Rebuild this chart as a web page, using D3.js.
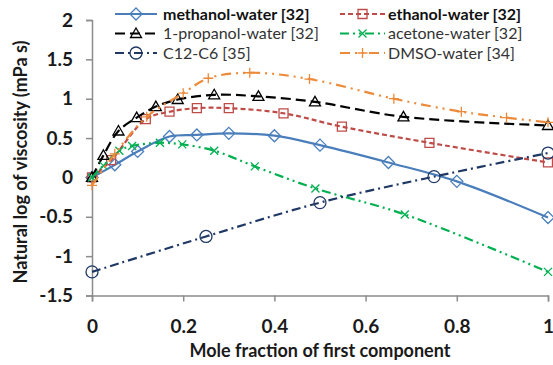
<!DOCTYPE html>
<html>
<head>
<meta charset="utf-8">
<script src="https://cdn.jsdelivr.net/npm/d3@7"></script>
<style>
  body { margin: 0; background: #fff; }
  svg { display: block; font-family: Lato, "Open Sans", sans-serif; }
</style>
</head>
<body>
<svg id="chart" width="553" height="365"></svg>
<script>
// values
const xTicks = [0, 0.2, 0.4, 0.6, 0.8, 1]
const yTicks = [-1.5, -1, -0.5, 0, 0.5, 1, 1.5, 2]

const methanolX = [0, 0.05, 0.1, 0.17, 0.23, 0.3, 0.4, 0.5, 0.65, 0.8, 1]
const methanolY = [0, 0.16, 0.33, 0.52, 0.54, 0.56, 0.53, 0.41, 0.19, -0.05, -0.51]

const ethanolX = [0, 0.042, 0.118, 0.17, 0.23, 0.3, 0.42, 0.548, 0.74, 1]
const ethanolY = [0, 0.22, 0.74, 0.835, 0.88, 0.88, 0.815, 0.645, 0.44, 0.19]

const propanolX = [0, 0.025, 0.058, 0.098, 0.14, 0.188, 0.268, 0.365, 0.489, 0.683, 1]
const propanolY = [0, 0.28, 0.59, 0.76, 0.9, 0.99, 1.05, 1.03, 0.96, 0.77, 0.66]

const acetoneX = [0, 0.025, 0.06, 0.088, 0.149, 0.198, 0.268, 0.357, 0.49, 0.686, 1]
const acetoneY = [0, 0.15, 0.34, 0.4, 0.44, 0.42, 0.34, 0.14, -0.14, -0.47, -1.2]

const c12X = [0, 0.25, 0.5, 0.75, 1]
const c12Y = [-1.2, -0.75, -0.32, 0.01, 0.31]

const dmsoX = [0, 0.05, 0.12, 0.2, 0.255, 0.346, 0.477, 0.662, 0.81, 0.909, 1]
const dmsoY = [-0.1, 0.3, 0.77, 1.07, 1.26, 1.33, 1.25, 1.0, 0.835, 0.76, 0.7]

const series = [
  { name: 'methanol-water [32]', xs: methanolX, ys: methanolY, color: '#4a7ebb', dash: null, marker: 'diamond', bold: true },
  { name: 'ethanol-water [32]', xs: ethanolX, ys: ethanolY, color: '#be4b48', dash: '5,3', marker: 'square', bold: true },
  { name: '1-propanol-water [32]', xs: propanolX, ys: propanolY, color: '#000000', dash: '10,5', marker: 'triangle', bold: false },
  { name: 'acetone-water [32]', xs: acetoneX, ys: acetoneY, color: '#00b050', dash: '9,4,2,4,2,4', marker: 'x', bold: false },
  { name: 'C12-C6 [35]', xs: c12X, ys: c12Y, color: '#1f3864', dash: '9,4,2,4', marker: 'circle', bold: false },
  { name: 'DMSO-water [34]', xs: dmsoX, ys: dmsoY, color: '#ed8a3a', dash: '10,5,2,5,2,5', marker: 'plus', bold: false }
]

const svg = d3.select('#chart')
const x = d3.scaleLinear().domain([0, 1]).range([92, 548])
const y = d3.scaleLinear().domain([-1.5, 2]).range([295.5, 20])
const axisColor = '#8c8c8c'

// axes
const gx = svg.append('g')
  .attr('transform', `translate(0,${y(-1.5)})`)
  .call(d3.axisBottom(x).tickValues(xTicks).tickSize(6).tickPadding(18).tickFormat(d3.format('~g')))
const gy = svg.append('g')
  .attr('transform', `translate(${x(0)},0)`)
  .call(d3.axisLeft(y).tickValues(yTicks).tickSize(6).tickPadding(13).tickFormat(d => String(d)))

for (const g of [gx, gy]) {
  g.select('.domain').attr('stroke', axisColor).attr('stroke-width', 1.5)
  g.selectAll('.tick line').attr('stroke', axisColor).attr('stroke-width', 1.5)
  g.selectAll('.tick text')
    .attr('fill', '#1a1a1a').style('font-size', '19px').style('font-weight', 'bold')
    .style('font-family', 'Lato, sans-serif')
}

svg.append('text')
  .attr('x', 320).attr('y', 357)
  .attr('text-anchor', 'middle')
  .style('font-size', '18px').style('font-weight', 'bold').attr('fill', '#1a1a1a')
  .text('Mole fraction of first component')

svg.append('text')
  .attr('transform', 'translate(27,162) rotate(-90)')
  .attr('text-anchor', 'middle')
  .style('font-size', '18px').style('font-weight', 'bold').attr('fill', '#1a1a1a')
  .text('Natural log of viscosity (mPa s)')

function drawMarker(g, type, cx, cy, color) {
  const s = g.append('path')
    .attr('fill', 'none').attr('stroke', color).attr('stroke-width', 1.3)
  let p
  if (type === 'diamond') p = `M${cx},${cy - 6}L${cx + 6},${cy}L${cx},${cy + 6}L${cx - 6},${cy}Z`
  else if (type === 'square') p = `M${cx - 4.5},${cy - 4.5}h9v9h-9Z`
  else if (type === 'triangle') p = `M${cx},${cy - 5.5}L${cx + 5.5},${cy + 4}L${cx - 5.5},${cy + 4}Z`
  else if (type === 'circle') p = `M${cx - 6},${cy}a6,6 0 1,0 12,0a6,6 0 1,0 -12,0Z`
  else if (type === 'x') p = `M${cx - 4},${cy - 4}L${cx + 4},${cy + 4}M${cx + 4},${cy - 4}L${cx - 4},${cy + 4}`
  else p = `M${cx - 5},${cy}h10M${cx},${cy - 5}v10`
  s.attr('d', p)
}

const line = d3.line().x(d => x(d[0])).y(d => y(d[1])).curve(d3.curveCatmullRom.alpha(0.5))

for (const s of series) {
  const pts = s.xs.map((v, i) => [v, s.ys[i]])
  const g = svg.append('g')
  g.append('path')
    .attr('d', line(pts))
    .attr('fill', 'none').attr('stroke', s.color).attr('stroke-width', 2.2)
    .attr('stroke-dasharray', s.dash)
  for (const p of pts) drawMarker(g, s.marker, x(p[0]), y(p[1]), s.color)
}

// legend, two columns
const legendCols = [{ lx: 115, len: 42, tx: 163 }, { lx: 340, len: 45, tx: 388 }]
const legendRows = [14, 33.5, 53]
series.forEach((s, i) => {
  const col = legendCols[i % 2], row = legendRows[Math.floor(i / 2)]
  const g = svg.append('g')
  g.append('line')
    .attr('x1', col.lx).attr('x2', col.lx + col.len).attr('y1', row).attr('y2', row)
    .attr('stroke', s.color).attr('stroke-width', 2.2).attr('stroke-dasharray', s.dash)
  drawMarker(g, s.marker, col.lx + col.len / 2, row, s.color)
  g.append('text')
    .attr('x', col.tx).attr('y', row).attr('dy', '0.35em')
    .style('font-size', '16px').style('font-weight', s.bold ? 'bold' : 'normal')
    .attr('fill', s.bold ? '#111' : '#333')
    .text(s.name)
})
</script>
</body>
</html>
